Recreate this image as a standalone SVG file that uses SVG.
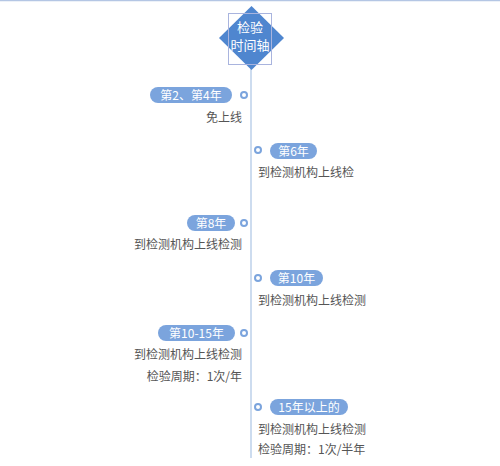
<svg xmlns="http://www.w3.org/2000/svg" width="500" height="466" viewBox="0 0 500 466">
<style>
.pill{fill:#7ba4dd}
.pt{font-family:"Noto Sans CJK SC","Noto Sans",sans-serif;font-size:12px;fill:#fff;text-anchor:middle}
.dot{fill:#fff;stroke:#7ba4dd;stroke-width:2}
.t{font-family:"Noto Sans CJK SC","Noto Sans",sans-serif;font-size:12px;fill:#555}
.r{text-anchor:end}
</style>
<rect x="0" y="0" width="500" height="466" fill="#fff"/>
<line x1="0" y1="0.5" x2="500" y2="0.5" stroke="#b4c6e4" stroke-width="1.5"/>
<g id="connectors">
<line x1="251" y1="68" x2="251" y2="458" stroke="#bcd0ea" stroke-width="1.5"/>
</g>
<g id="root">
<polygon points="251.5,6 284,38 251.5,70 219,38" fill="#4f86cf"/>
<rect x="228.5" y="13.5" width="43" height="51" fill="none" stroke="#a9b4de" stroke-width="1"/>
<text x="250" y="32" class="pt" style="font-size:13px">检验</text>
<text x="250" y="50" class="pt" style="font-size:13px">时间轴</text>
</g>
<g id="n1">
<rect x="150" y="87" width="82" height="16" rx="8" class="pill"/>
<text x="191" y="99.5" class="pt">第2、第4年</text>
<circle cx="244" cy="95" r="3" class="dot"/>
<text x="242" y="122" class="t r">免上线</text>
</g>
<g id="n2">
<circle cx="258" cy="150" r="3" class="dot"/>
<rect x="270" y="143" width="47" height="16" rx="8" class="pill"/>
<text x="293.5" y="155.5" class="pt">第6年</text>
<text x="258" y="177" class="t">到检测机构上线检</text>
</g>
<g id="n3">
<rect x="187" y="215" width="48" height="16" rx="8" class="pill"/>
<text x="211" y="227.5" class="pt">第8年</text>
<circle cx="244" cy="223" r="3" class="dot"/>
<text x="242" y="249" class="t r">到检测机构上线检测</text>
</g>
<g id="n4">
<circle cx="258" cy="278" r="3" class="dot"/>
<rect x="270" y="270" width="53" height="16" rx="8" class="pill"/>
<text x="296.5" y="282.5" class="pt">第10年</text>
<text x="258" y="305" class="t">到检测机构上线检测</text>
</g>
<g id="n5">
<rect x="158" y="325" width="77" height="16" rx="8" class="pill"/>
<text x="196.5" y="337.5" class="pt">第10-15年</text>
<circle cx="244" cy="333" r="3" class="dot"/>
<text x="242" y="359" class="t r">到检测机构上线检测</text>
<text x="242" y="381" class="t r">检验周期：1次/年</text>
</g>
<g id="n6">
<circle cx="258" cy="407" r="3" class="dot"/>
<rect x="270" y="399" width="78" height="16" rx="8" class="pill"/>
<text x="309" y="411.5" class="pt">15年以上的</text>
<text x="258" y="434" class="t">到检测机构上线检测</text>
<text x="258" y="454" class="t">检验周期：1次/半年</text>
</g>
</svg>
